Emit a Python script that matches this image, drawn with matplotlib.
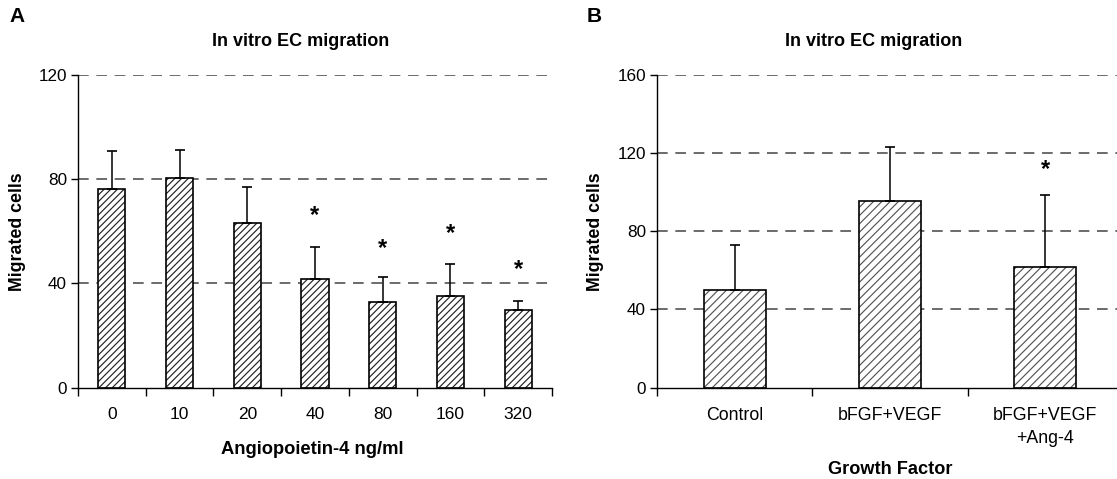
import matplotlib
matplotlib.use("Agg")
import matplotlib.pyplot as plt
import numpy as np

plt.rcParams['font.family'] = ['Liberation Sans', 'DejaVu Sans']
plt.rcParams['hatch.linewidth'] = 0.85

# Panel A data
doses = ["0", "10", "20", "40", "80", "160", "320"]
mig_a = [76.3, 80.6, 63.3, 41.6, 32.9, 35.1, 29.8]
err_a = [14.6, 10.7, 13.9, 12.4, 9.4, 12.4, 3.6]
star_a = [None, None, None, 66.0, 53.5, 59.3, 45.2]

# Panel B data
groups = ["Control", "bFGF+VEGF", "bFGF+VEGF\n+Ang-4"]
mig_b = [50.2, 95.8, 61.6]
err_b = [22.9, 27.3, 37.1]
star_b = [None, None, 111.9]

W, H = 1117, 479
fig = plt.figure(figsize=(W / 100, H / 100), dpi=100)

def px_axes(l, r, t, b):
    return fig.add_axes([l / W, 1 - b / H, (r - l) / W, (b - t) / H])

axA = px_axes(78, 552, 75.3, 387.5)
axB = px_axes(657, 1123, 75.3, 387.5)

def style(ax, ymax, ncat, labelsize):
    ax.set_ylim(0, ymax)
    ax.set_xlim(-0.5, ncat - 0.5)
    for s in ['top', 'right']:
        ax.spines[s].set_visible(False)
    for s in ['left', 'bottom']:
        ax.spines[s].set_linewidth(1.0)
    yt = np.arange(0, ymax + 1, 40)
    ax.set_yticks(yt)
    ax.tick_params(axis='y', length=5, width=1, labelsize=12.3, pad=3, colors='black')
    for y in yt[1:]:
        ax.axhline(y, color='#444444', lw=1.1, ls=(0, (7, 5)), zorder=0)
    ax.set_xticks(np.arange(ncat + 1) - 0.5, minor=False)
    ax.set_xticklabels([])
    ax.tick_params(axis='x', which='major', length=6, width=1)
    ax.set_xticks(np.arange(ncat), minor=True)
    ax.tick_params(axis='x', which='minor', length=0, labelsize=labelsize, pad=14)

def bars(ax, x, vals, errs, hatch, hcolor):
    ax.bar(x, vals, width=0.4, color='white', edgecolor=hcolor, lw=0,
           hatch=hatch, zorder=2)
    ax.bar(x, vals, width=0.4, fill=False, edgecolor='black', lw=1.2, zorder=2.5)
    ax.errorbar(x, vals, yerr=[np.zeros(len(errs)), errs], fmt='none',
                ecolor='black', elinewidth=1.1, capsize=3.3, capthick=1.2, zorder=3)

# Panel A
x_a = np.arange(len(doses))
bars(axA, x_a, mig_a, err_a, '/////', '#222222')
style(axA, 120, len(doses), 12.5)
axA.set_xticklabels(doses, minor=True)
for xi, s in zip(x_a, star_a):
    if s is not None:
        axA.text(xi, s, "*", ha='center', va='center', fontsize=17, fontweight='bold')
axA.set_ylabel("Migrated cells", fontsize=12.8, fontweight='bold')
axA.yaxis.set_label_coords((26 - 78) / 474, 0.5)
axA.set_xlabel("Angiopoietin-4 ng/ml", fontsize=13.2, fontweight='bold')
axA.xaxis.set_label_coords((312 - 78) / 474, -0.17)
axA.set_title("In vitro EC migration", fontsize=13, fontweight='bold', pad=21,
              x=(301 - 78) / 474)

# Panel B
x_b = np.arange(len(groups))
bars(axB, x_b, mig_b, err_b, '////', '#555555')
style(axB, 160, len(groups), 12.8)
axB.set_xticklabels(groups, minor=True, linespacing=1.5)
for xi, s in zip(x_b, star_b):
    if s is not None:
        axB.text(xi, s, "*", ha='center', va='center', fontsize=17, fontweight='bold')
axB.set_ylabel("Migrated cells", fontsize=12.8, fontweight='bold')
axB.yaxis.set_label_coords((604 - 657) / 466, 0.5)
axB.set_xlabel("Growth Factor", fontsize=13.1, fontweight='bold')
axB.xaxis.set_label_coords((890 - 657) / 466, -0.236)
axB.set_title("In vitro EC migration", fontsize=13, fontweight='bold', pad=21,
              x=(874 - 657) / 466)

fig.text(9 / W, 1 - 17 / H, "A", fontsize=15, fontweight='bold', va='center', ha='left')
fig.text(587 / W, 1 - 17 / H, "B", fontsize=15, fontweight='bold', va='center', ha='left')

fig.savefig("out.png", dpi=100)
